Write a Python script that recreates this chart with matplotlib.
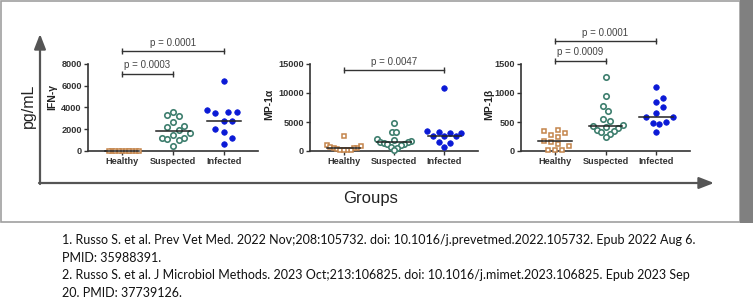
import numpy as np
import matplotlib
matplotlib.use('Agg')
import matplotlib.pyplot as plt
from matplotlib.patches import Rectangle

# Values (pg/mL)
groups = ['Healthy', 'Suspected', 'Infected']

ifn_healthy = [10, 5, 0, 15, 0, 8, 0, 12, 3, 0]
ifn_suspected = [3600, 3300, 3200, 2630, 2320, 2170, 1930, 1680, 1470, 1220, 1190, 1100, 1000, 460]
ifn_infected = [6450, 3760, 3550, 3550, 3460, 2780, 2780, 1990, 1710, 1190, 640]

mp1a_healthy = [2650, 1050, 850, 700, 600, 550, 450, 300, 250, 200, 150, 100]
mp1a_suspected = [4900, 3350, 3300, 2000, 1900, 1800, 1600, 1500, 1400, 1250, 1200, 1050, 750, 450, 250]
mp1a_infected = [10900, 3500, 3300, 3100, 3100, 2600, 2600, 2600, 1500, 1300, 650]

mp1b_healthy = [370, 340, 310, 280, 250, 180, 150, 120, 90, 10, 10, 10]
mp1b_suspected = [1270, 950, 780, 690, 560, 510, 440, 430, 410, 400, 360, 340, 330, 290, 240]
mp1b_infected = [1100, 920, 850, 750, 660, 590, 580, 500, 480, 470, 320]

references = [
    '1. Russo S. et al. Prev Vet Med. 2022 Nov;208:105732. doi: 10.1016/j.prevetmed.2022.105732. Epub 2022 Aug 6.',
    'PMID: 35988391.',
    '2. Russo S. et al. J Microbiol Methods. 2023 Oct;213:106825. doi: 10.1016/j.mimet.2023.106825. Epub 2023 Sep',
    '20. PMID: 37739126.',
]

W, H = 753, 298
plt.rcParams['font.family'] = ['Liberation Sans', 'DejaVu Sans']
fig = plt.figure(figsize=(W / 100, H / 100), dpi=100)
fig.patch.set_facecolor('white')

# background layer in pixel coordinates
bg = fig.add_axes([0, 0, 1, 1], zorder=0)
bg.set_xlim(0, W)
bg.set_ylim(H, 0)
bg.axis('off')
bg.add_patch(Rectangle((1, 1), 739, 221, fill=False, edgecolor='#a0a0a0', lw=1.2))
bg.add_patch(Rectangle((740, 0), 13, 223, facecolor='#808080', edgecolor='none'))
arrow = dict(arrowstyle='-|>,head_length=0.9,head_width=0.35', color='#555555', lw=1.6,
             mutation_scale=10, shrinkA=0, shrinkB=0)
bg.annotate('', xy=(714, 183), xytext=(39, 183), arrowprops=arrow)
bg.annotate('', xy=(40, 34), xytext=(40, 184), arrowprops=arrow)
bg.text(28, 106, 'pg/mL', rotation=90, ha='center', va='center', fontsize=11.5, color='#222222')
bg.text(371, 199, 'Groups', ha='center', va='center', fontsize=12, color='#222222')
for i, line in enumerate(references):
    bg.text(62, 240 + i * 17.7, line, ha='left', va='center', fontsize=9.0,
            family=['Lato', 'DejaVu Sans'], color='#111111')

XMIN, XMAX = -0.67, 2.67


def swarm(vals, ax, d_px, max_px=17):
    # simple beeswarm: place points from low to high, nearest free x offset
    bb = ax.get_position()
    yunit = bb.height * H / ax.get_ylim()[1]
    xunit = bb.width * W / (XMAX - XMIN)
    vals = np.asarray(vals, dtype=float)
    offs = np.zeros(len(vals))
    placed = []
    cands = [0.0]
    for k in range(1, 30):
        cands += [k * d_px / 2, -k * d_px / 2]
    for i in np.argsort(vals):
        y = vals[i] * yunit
        for c in cands:
            if all((c - px) ** 2 + (y - py) ** 2 >= (d_px * 0.98) ** 2 for px, py in placed):
                break
        placed.append((c, y))
        offs[i] = c
    m = np.abs(offs).max()
    if m > max_px:
        offs = offs * max_px / m
    return offs / xunit


styles = [
    dict(marker='s', ms=3.1, mfc='white', mec='#c4854c', mew=1.1, d=7),
    dict(marker='o', ms=3.9, mfc='white', mec='#3f7f6f', mew=1.2, d=9.5),
    dict(marker='o', ms=4.0, mfc='#0b1ad6', mec='#0b1ad6', mew=0.5, d=9.5),
]


def panel(left, right, ymax, yticks, data, ylabel, lab_xy, brackets):
    ax = fig.add_axes([left / W, 1 - 151 / H, (right - left) / W, 87 / H], zorder=2)
    ax.set_facecolor('none')
    ax.set_xlim(XMIN, XMAX)
    ax.set_ylim(0, ymax)
    for s in ['top', 'right']:
        ax.spines[s].set_visible(False)
    for s in ['left', 'bottom']:
        ax.spines[s].set_color('#333333')
        ax.spines[s].set_linewidth(1.2)
    ax.set_yticks(yticks)
    ax.set_yticklabels([str(t) for t in yticks])
    ax.set_xticks(range(3))
    ax.set_xticklabels(groups)
    ax.tick_params(length=3, width=1, color='#333333', labelsize=6.6, labelcolor='#333333', pad=1.5)
    for lab in ax.get_xticklabels() + ax.get_yticklabels():
        lab.set_fontweight('bold')
    for gi, (vals, st) in enumerate(zip(data, styles)):
        offs = swarm(vals, ax, st['d'])
        ax.plot(gi + offs, vals, ls='none', marker=st['marker'], ms=st['ms'], mfc=st['mfc'],
                mec=st['mec'], mew=st['mew'], clip_on=False, zorder=3)
        med = np.median(vals)
        ax.plot([gi - 0.33, gi + 0.33], [med, med], color='#222222', lw=1.1, zorder=4, clip_on=False)
    for x0, x1, yb, yt, txt in brackets:
        ax.plot([x0, x1], [yb, yb], color='#333333', lw=1, marker='|', ms=5, mew=1, clip_on=False)
        ax.text((x0 + x1) / 2, yt, txt, ha='center', va='center', fontsize=7, color='#444444')
    bg.text(lab_xy[0], lab_xy[1], ylabel, rotation=90, ha='center', va='center',
            fontsize=7.5, fontweight='bold', color='#222222')
    return ax


panel(88, 258, 8000, [0, 2000, 4000, 6000, 8000],
      [ifn_healthy, ifn_suspected, ifn_infected], 'IFN-γ', (52, 97),
      [(0, 2, 9170, 9900, 'p = 0.0001'), (0, 1, 7050, 7880, 'p = 0.0003')])
panel(310, 478, 15000, [0, 5000, 10000, 15000],
      [mp1a_healthy, mp1a_suspected, mp1a_infected], 'MP-1α', (269, 104),
      [(0, 2, 14030, 15350, 'p = 0.0047')])
panel(521, 690, 1500, [0, 500, 1000, 1500],
      [mp1b_healthy, mp1b_suspected, mp1b_infected], 'MP-1β', (489, 104),
      [(0, 2, 1897, 2034, 'p = 0.0001'), (0, 1, 1552, 1707, 'p = 0.0009')])

fig.savefig('out.png', dpi=100)
